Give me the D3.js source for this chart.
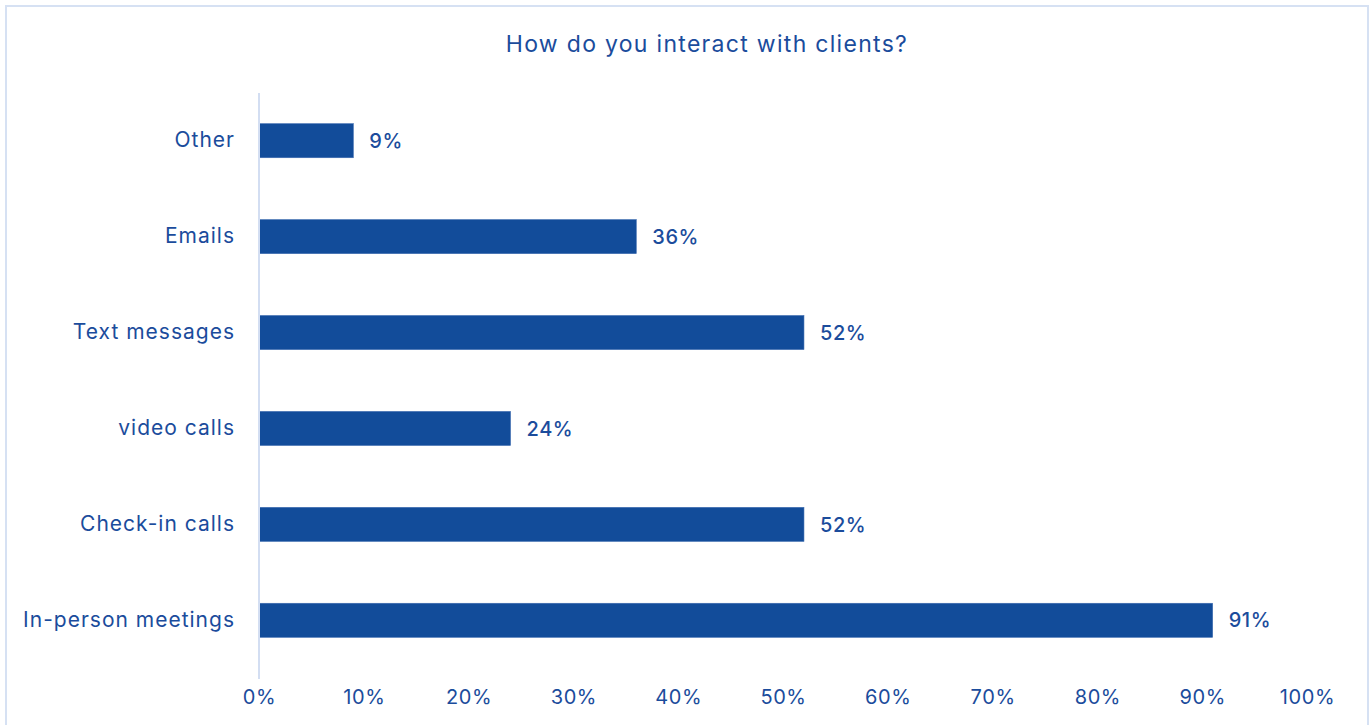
<!DOCTYPE html>
<html>
<head>
<meta charset="utf-8">
<script src="https://cdn.jsdelivr.net/npm/d3@7"></script>
<style>
  html, body { margin: 0; padding: 0; background: #fff; }
  svg { display: block; font-family: "Inter", "Lato", sans-serif; }
</style>
</head>
<body>
<svg id="chart" width="1369" height="725"></svg>
<script>
// Survey responses, listed top to bottom
const categories = ["Other", "Emails", "Text messages", "video calls", "Check-in calls", "In-person meetings"];
const values = [9, 36, 52, 24, 52, 91];
const tickValues = [0, 10, 20, 30, 40, 50, 60, 70, 80, 90, 100];
const title = "How do you interact with clients?";

const W = 1369, H = 725;
const margin = { top: 93, right: 62, bottom: 57, left: 259 };
const ink = "#1b4c9c";
const barColor = "#124c9a";

const svg = d3.select("#chart");

// Outer frame
svg.append("rect")
  .attr("x", 6).attr("y", 6)
  .attr("width", W - 7).attr("height", H + 10)
  .attr("fill", "#fff")
  .attr("stroke", "#d6e1f3").attr("stroke-width", 2);

const x = d3.scaleLinear().domain([0, 100]).range([margin.left, W - margin.right]);
const y = d3.scaleBand().domain(categories).range([margin.top, H - margin.bottom]).paddingInner(0.645).paddingOuter(0.32);

// Title
svg.append("text")
  .attr("x", 707).attr("y", 52)
  .attr("text-anchor", "middle")
  .attr("fill", ink)
  .attr("font-size", 23)
  .attr("letter-spacing", "1.3px")
  .text(title);

// Bars
svg.append("g").selectAll("rect")
  .data(categories)
  .join("rect")
  .attr("x", x(0))
  .attr("y", d => y(d))
  .attr("width", (d, i) => x(values[i]) - x(0))
  .attr("height", y.bandwidth())
  .attr("fill", barColor)
  .attr("stroke", "#3d6bb0").attr("stroke-width", 0.6);

// Value labels
svg.append("g").selectAll("text")
  .data(categories)
  .join("text")
  .attr("x", (d, i) => x(values[i]) + 16)
  .attr("y", d => y(d) + y.bandwidth() / 2)
  .attr("dy", "0.36em")
  .attr("fill", ink)
  .attr("font-size", 20)
  .attr("font-weight", 500)
  .attr("letter-spacing", "0.6px")
  .text((d, i) => values[i] + "%");

// Category axis
const yAxis = svg.append("g")
  .attr("transform", `translate(${x(0)},0)`)
  .call(d3.axisLeft(y).tickSize(0).tickPadding(24));
yAxis.select(".domain")
  .attr("d", `M0,${margin.top}V${H - margin.bottom + 11}`)
  .attr("stroke", "#d3def2").attr("stroke-width", 2);
yAxis.selectAll("text")
  .attr("fill", ink)
  .attr("font-size", 21)
  .attr("letter-spacing", "1px")
  .attr("font-family", "Inter, Lato, sans-serif");

// Value axis (labels only)
const xAxis = svg.append("g")
  .attr("transform", `translate(0,${H - 38})`)
  .call(d3.axisBottom(x).tickValues(tickValues).tickSize(0).tickFormat(d => d + "%"));
xAxis.select(".domain").remove();
xAxis.selectAll("text")
  .attr("fill", ink)
  .attr("font-size", 20)
  .attr("letter-spacing", "0.6px")
  .attr("font-family", "Inter, Lato, sans-serif");
</script>
</body>
</html>
